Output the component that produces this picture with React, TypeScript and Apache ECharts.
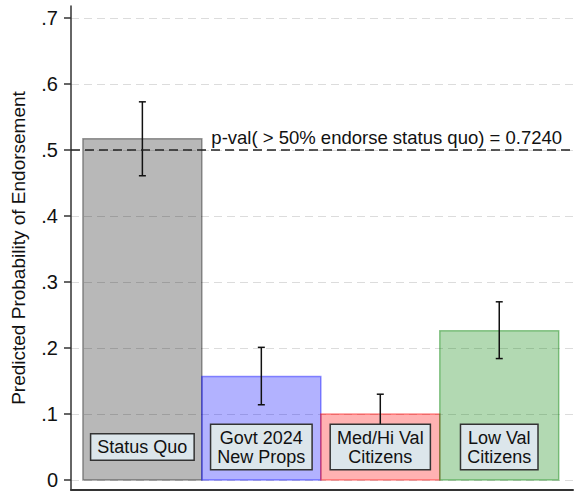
import React, { useEffect, useRef } from "react";
import * as echarts from "echarts";

const CATEGORIES = [
  "Status Quo",
  "Govt 2024\nNew Props",
  "Med/Hi Val\nCitizens",
  "Low Val\nCitizens",
];
const ESTIMATES = [0.517, 0.157, 0.1, 0.226];
const CI_LOW = [0.461, 0.114, 0.07, 0.184];
const CI_HIGH = [0.573, 0.201, 0.13, 0.27];
const Y_TICKS = [0, 0.1, 0.2, 0.3, 0.4, 0.5, 0.6, 0.7];
const THRESHOLD = 0.5;
const NOTE_TEXT = "p-val( > 50% endorse status quo) = 0.7240";
const Y_TITLE = "Predicted Probability of Endorsement";

const BAR_FILL = [
  "rgba(0,0,0,0.28)",
  "rgba(0,0,255,0.3)",
  "rgba(255,0,0,0.3)",
  "rgba(0,128,0,0.3)",
];
const BAR_EDGE = [
  "rgba(0,0,0,0.38)",
  "rgba(0,0,255,0.42)",
  "rgba(255,0,0,0.42)",
  "rgba(0,128,0,0.42)",
];

const FONT = "'Liberation Sans', Arial, Helvetica, sans-serif";

export default function App() {
  const ref = useRef<HTMLDivElement>(null);

  useEffect(() => {
    if (!ref.current) return;
    const chart = echarts.init(ref.current, undefined, { renderer: "svg" });

    const barData = CATEGORIES.map((_, i) => [i, ESTIMATES[i], CI_LOW[i], CI_HIGH[i]]);

    const option: any = {
      animation: false,
      backgroundColor: "#ffffff",
      grid: { left: 71, right: 6, top: 6, bottom: 2, containLabel: false },
      xAxis: {
        type: "value",
        min: -0.6,
        max: 3.62,
        axisLine: { show: true, onZero: false, lineStyle: { color: "#333", width: 2 } },
        axisTick: { show: false },
        axisLabel: { show: false },
        splitLine: { show: false },
      },
      yAxis: {
        type: "value",
        min: -0.01515,
        max: 0.7182,
        name: Y_TITLE,
        nameLocation: "middle",
        nameRotate: 90,
        nameGap: 43,
        nameTextStyle: { fontFamily: FONT, fontSize: 19, color: "#111" },
        axisLine: { show: true, onZero: false, lineStyle: { color: "#333", width: 1.5 } },
        axisTick: {
          show: true,
          length: 7,
          customValues: Y_TICKS,
          lineStyle: { color: "#333", width: 1.5 },
        },
        axisLabel: {
          show: true,
          customValues: Y_TICKS,
          margin: 13,
          fontFamily: FONT,
          fontSize: 20,
          color: "#111",
          formatter: (v: number) => (Math.abs(v) < 1e-9 ? "0" : v.toFixed(1).replace(/^0/, "")),
        },
        splitLine: {
          show: true,
          lineStyle: { color: "#dcdcdc", width: 1, type: [8, 5] },
        },
      },
      series: [
        {
          type: "custom",
          name: "bars",
          data: barData,
          encode: { x: 0, y: 1 },
          renderItem: (params: any, api: any) => {
            const i = api.value(0);
            const v = api.value(1);
            const lo = api.value(2);
            const hi = api.value(3);
            const tl = api.coord([i - 0.5, v]);
            const br = api.coord([i + 0.5, 0]);
            const top = api.coord([i, hi]);
            const bot = api.coord([i, lo]);
            const lab = api.coord([i, 0.05]);
            const cap = 3.5;
            const idx = params.dataIndex;
            return {
              type: "group",
              children: [
                {
                  type: "rect",
                  shape: { x: tl[0], y: tl[1], width: br[0] - tl[0], height: br[1] - tl[1] },
                  style: { fill: BAR_FILL[idx], stroke: BAR_EDGE[idx], lineWidth: 1.5 },
                },
                {
                  type: "line",
                  shape: { x1: top[0], y1: top[1], x2: bot[0], y2: bot[1] },
                  style: { stroke: "#111", lineWidth: 1.5 },
                },
                {
                  type: "line",
                  shape: { x1: top[0] - cap, y1: top[1], x2: top[0] + cap, y2: top[1] },
                  style: { stroke: "#111", lineWidth: 1.5 },
                },
                {
                  type: "line",
                  shape: { x1: bot[0] - cap, y1: bot[1], x2: bot[0] + cap, y2: bot[1] },
                  style: { stroke: "#111", lineWidth: 1.5 },
                },
                {
                  type: "text",
                  style: {
                    text: CATEGORIES[idx],
                    x: lab[0],
                    y: lab[1],
                    align: "center",
                    verticalAlign: "middle",
                    fontFamily: FONT,
                    fontSize: 18,
                    lineHeight: 19,
                    fill: "#111",
                    backgroundColor: "#dce6eb",
                    borderColor: "#333",
                    borderWidth: 1.5,
                    padding: [3, 6, 3, 6],
                  },
                },
              ],
            };
          },
          z: 2,
        },
        {
          type: "custom",
          name: "note",
          data: [[0.58, 0.5186]],
          encode: { x: 0, y: 1 },
          renderItem: (_params: any, api: any) => {
            const p = api.coord([api.value(0), api.value(1)]);
            return {
              type: "text",
              style: {
                text: NOTE_TEXT,
                x: p[0],
                y: p[1],
                align: "left",
                verticalAlign: "middle",
                fontFamily: FONT,
                fontSize: 18.5,
                fill: "#111",
              },
            };
          },
          markLine: {
            silent: true,
            symbol: "none",
            label: { show: false },
            lineStyle: { color: "#222", width: 1.5, type: [9, 5] },
            data: [{ yAxis: THRESHOLD }],
          },
          z: 3,
        },
      ],
    };

    chart.setOption(option);
    return () => chart.dispose();
  }, []);

  return (
    <div
      ref={ref}
      style={{ position: "fixed", left: 0, top: 0, width: 579, height: 492, background: "#fff" }}
    />
  );
}
